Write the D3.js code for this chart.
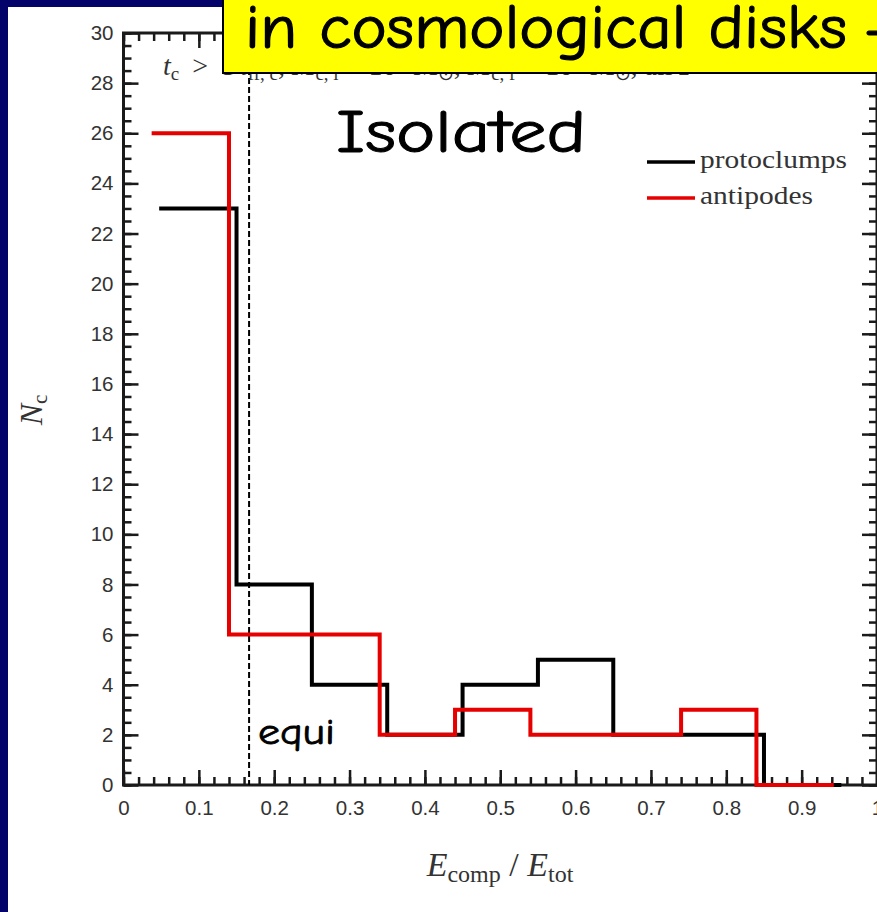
<!DOCTYPE html>
<html>
<head>
<meta charset="utf-8">
<script src="https://cdn.jsdelivr.net/npm/d3@7"></script>
<style>
  html, body { margin: 0; padding: 0; background: #03036a; }
  svg { display: block; }
</style>
</head>
<body>
<script>
// Histogram of compressive energy fraction for clumps in isolated disks
const protoclumpEdges = [0.05, 0.15, 0.25, 0.35, 0.45, 0.55, 0.65, 0.75, 0.85, 0.95];
const protoclumpCounts = [23, 8, 4, 2, 4, 5, 2, 2, 0];
const antipodeEdges = [0.04, 0.14, 0.24, 0.34, 0.44, 0.54, 0.64, 0.74, 0.84, 0.94];
const antipodeCounts = [26, 6, 6, 2, 3, 2, 2, 3, 0];
const seriesNames = ["protoclumps", "antipodes"];
const seriesColors = ["#000000", "#e60000"];
const equipartition = 1 / 6;
const xTicks = [0, 0.1, 0.2, 0.3, 0.4, 0.5, 0.6, 0.7, 0.8, 0.9, 1];
const yTicks = [0, 2, 4, 6, 8, 10, 12, 14, 16, 18, 20, 22, 24, 26, 28, 30];

const W = 877, H = 912;
const svg = d3.select("body").append("svg").attr("width", W).attr("height", H);

// slide background: navy frame with white figure panel
svg.append("rect").attr("x", 8).attr("y", 7).attr("width", W - 8).attr("height", H - 7).attr("fill", "#ffffff");

const x = d3.scaleLinear().domain([0, 1]).range([123.5, 877]);
const y = d3.scaleLinear().domain([0, 30]).range([785, 33]);

const axisColor = "#1a1a1a";
const labelFont = "Liberation Sans, Arial, sans-serif";
const serif = "Liberation Serif, 'Times New Roman', serif";

// minor ticks
const xMinor = d3.range(0, 1.0001, 0.02);
const yMinor = d3.range(0, 30.001, 0.5);

function styleAxis(g) {
  g.select(".domain").remove();
  g.selectAll(".tick line").attr("stroke", axisColor).attr("stroke-width", 2.5);
  g.selectAll(".tick text").attr("fill", "#333").attr("font-family", labelFont).attr("font-size", 20.5);
}

// bottom axis
svg.append("g").attr("transform", `translate(0,${y(0)})`)
  .call(d3.axisBottom(x).tickValues(xMinor).tickFormat("").tickSize(-8))
  .call(styleAxis);
svg.append("g").attr("transform", `translate(0,${y(0)})`)
  .call(d3.axisBottom(x).tickValues(xTicks).tickFormat(d3.format("~g")).tickSize(-15).tickPadding(15))
  .call(styleAxis);
// top axis
svg.append("g").attr("transform", `translate(0,${y(30)})`)
  .call(d3.axisTop(x).tickValues(xMinor).tickFormat("").tickSize(-8))
  .call(styleAxis);
svg.append("g").attr("transform", `translate(0,${y(30)})`)
  .call(d3.axisTop(x).tickValues(xTicks).tickFormat("").tickSize(-15))
  .call(styleAxis);
// left axis
svg.append("g").attr("transform", `translate(${x(0)},0)`)
  .call(d3.axisLeft(y).tickValues(yMinor).tickFormat("").tickSize(-8))
  .call(styleAxis);
svg.append("g").attr("transform", `translate(${x(0)},0)`)
  .call(d3.axisLeft(y).tickValues(yTicks).tickFormat(d3.format("d")).tickSize(-15).tickPadding(10))
  .call(styleAxis);
// right axis
svg.append("g").attr("transform", `translate(${x(1)},0)`)
  .call(d3.axisRight(y).tickValues(yMinor).tickFormat("").tickSize(-8))
  .call(styleAxis);
svg.append("g").attr("transform", `translate(${x(1)},0)`)
  .call(d3.axisRight(y).tickValues(yTicks).tickFormat("").tickSize(-15))
  .call(styleAxis);

// frame
svg.append("rect")
  .attr("x", x(0)).attr("y", y(30))
  .attr("width", x(1) - x(0)).attr("height", y(0) - y(30))
  .attr("fill", "none").attr("stroke", axisColor).attr("stroke-width", 3);

// equipartition marker
svg.append("line")
  .attr("x1", x(equipartition)).attr("x2", x(equipartition))
  .attr("y1", y(30)).attr("y2", y(0))
  .attr("stroke", "#000").attr("stroke-width", 2).attr("stroke-dasharray", "6,3");

// step histograms
const step = d3.line().x(d => x(d[0])).y(d => y(d[1])).curve(d3.curveStepAfter);
function stairs(edges, counts) {
  const pts = counts.map((c, i) => [edges[i], c]);
  pts.push([edges[edges.length - 1], counts[counts.length - 1]]);
  return pts;
}
const series = [
  { edges: protoclumpEdges, counts: protoclumpCounts },
  { edges: antipodeEdges, counts: antipodeCounts }
];
series.forEach((s, i) => {
  svg.append("path")
    .attr("d", step(stairs(s.edges, s.counts)))
    .attr("fill", "none")
    .attr("stroke", seriesColors[i])
    .attr("stroke-width", 4)
    .attr("stroke-linejoin", "miter")
    .attr("stroke-linecap", "square");
});

// selection criterion line (its upper part sits under the banner)
const crit = svg.append("text").attr("x", 163).attr("y", 75)
  .attr("font-family", serif).attr("font-size", 28).attr("fill", "#333");
crit.append("tspan").attr("font-style", "italic").text("t");
crit.append("tspan").attr("font-size", 19).attr("dy", 5).text("c");
crit.append("tspan").attr("dy", -5).attr("dx", 13).text(">");
crit.append("tspan").attr("dx", 14).text("5");
crit.append("tspan").attr("dx", 4).attr("font-style", "italic").text("t");
crit.append("tspan").attr("font-size", 19).attr("dy", 5).text("ff, c");
crit.append("tspan").attr("dy", -5).text(",   ");
crit.append("tspan").attr("font-style", "italic").text("M");
crit.append("tspan").attr("font-size", 19).attr("dy", 5).text("c, i");
crit.append("tspan").attr("dy", -5).text(" > 10");
crit.append("tspan").attr("font-size", 19).attr("dy", -10).text("7");
crit.append("tspan").attr("dy", 10).text(" M");
crit.append("tspan").attr("font-size", 19).attr("dy", 5).text("⊙");
crit.append("tspan").attr("dy", -5).text(",   ");
crit.append("tspan").attr("font-style", "italic").text("M");
crit.append("tspan").attr("font-size", 19).attr("dy", 5).text("c, f");
crit.append("tspan").attr("dy", -5).text(" > 10");
crit.append("tspan").attr("font-size", 19).attr("dy", -10).text("8");
crit.append("tspan").attr("dy", 10).text(" M");
crit.append("tspan").attr("font-size", 19).attr("dy", 5).text("⊙");
crit.append("tspan").attr("dy", -5).text(",  all  ");
crit.append("tspan").attr("font-style", "italic").text("z");

// legend
const legendX1 = 647, legendX2 = 695;
const legendY = [162, 198];
const legendWidths = [147, 113];
seriesNames.forEach((name, i) => {
  svg.append("line")
    .attr("x1", legendX1).attr("x2", legendX2)
    .attr("y1", legendY[i]).attr("y2", legendY[i])
    .attr("stroke", seriesColors[i]).attr("stroke-width", 3.5);
  svg.append("text")
    .attr("x", 700).attr("y", legendY[i] + 6)
    .attr("font-family", serif).attr("font-size", 25).attr("fill", "#333")
    .attr("textLength", legendWidths[i]).attr("lengthAdjust", "spacingAndGlyphs")
    .text(name);
});

// axis titles
const yl = svg.append("text")
  .attr("transform", `translate(42,410) rotate(-90)`)
  .attr("text-anchor", "middle")
  .attr("font-family", serif).attr("font-size", 32).attr("fill", "#333");
yl.append("tspan").attr("font-style", "italic").text("N");
yl.append("tspan").attr("font-size", 21).attr("dy", 5).text("c");

const xl = svg.append("text")
  .attr("x", 500).attr("y", 876)
  .attr("text-anchor", "middle")
  .attr("font-family", serif).attr("font-size", 34).attr("fill", "#333");
xl.append("tspan").attr("font-style", "italic").text("E");
xl.append("tspan").attr("font-size", 24).attr("dy", 6).text("comp");
xl.append("tspan").attr("dy", -6).text(" / ");
xl.append("tspan").attr("font-style", "italic").text("E");
xl.append("tspan").attr("font-size", 24).attr("dy", 6).text("tot");

// annotations
const hand = "'Comic Sans MS', 'Comic Neue', 'DejaVu Sans', sans-serif";
svg.append("text").attr("x", 336).attr("y", 152)
  .attr("font-family", hand).attr("font-size", 60).attr("fill", "#000")
  .attr("stroke", "#000").attr("stroke-width", 1)
  .attr("textLength", 250).attr("lengthAdjust", "spacingAndGlyphs")
  .text("Isolated");
svg.append("text").attr("x", 258).attr("y", 744)
  .attr("font-family", hand).attr("font-size", 37).attr("fill", "#000")
  .attr("stroke", "#000").attr("stroke-width", 0.8)
  .attr("textLength", 77).attr("lengthAdjust", "spacingAndGlyphs")
  .text("equi");

// banner
svg.append("rect").attr("x", 223).attr("y", -5).attr("width", 700).attr("height", 78)
  .attr("fill", "#ffff00").attr("stroke", "#000").attr("stroke-width", 2);
svg.append("text").attr("x", 245).attr("y", 48)
  .attr("font-family", hand).attr("font-size", 62).attr("fill", "#000")
  .attr("stroke", "#000").attr("stroke-width", 1.2)
  .attr("textLength", 602).attr("lengthAdjust", "spacingAndGlyphs")
  .text("in cosmological disks");
svg.append("text").attr("x", 864).attr("y", 48)
  .attr("font-family", hand).attr("font-size", 62).attr("fill", "#000")
  .attr("stroke", "#000").attr("stroke-width", 1.2)
  .text("-");
</script>
</body>
</html>
